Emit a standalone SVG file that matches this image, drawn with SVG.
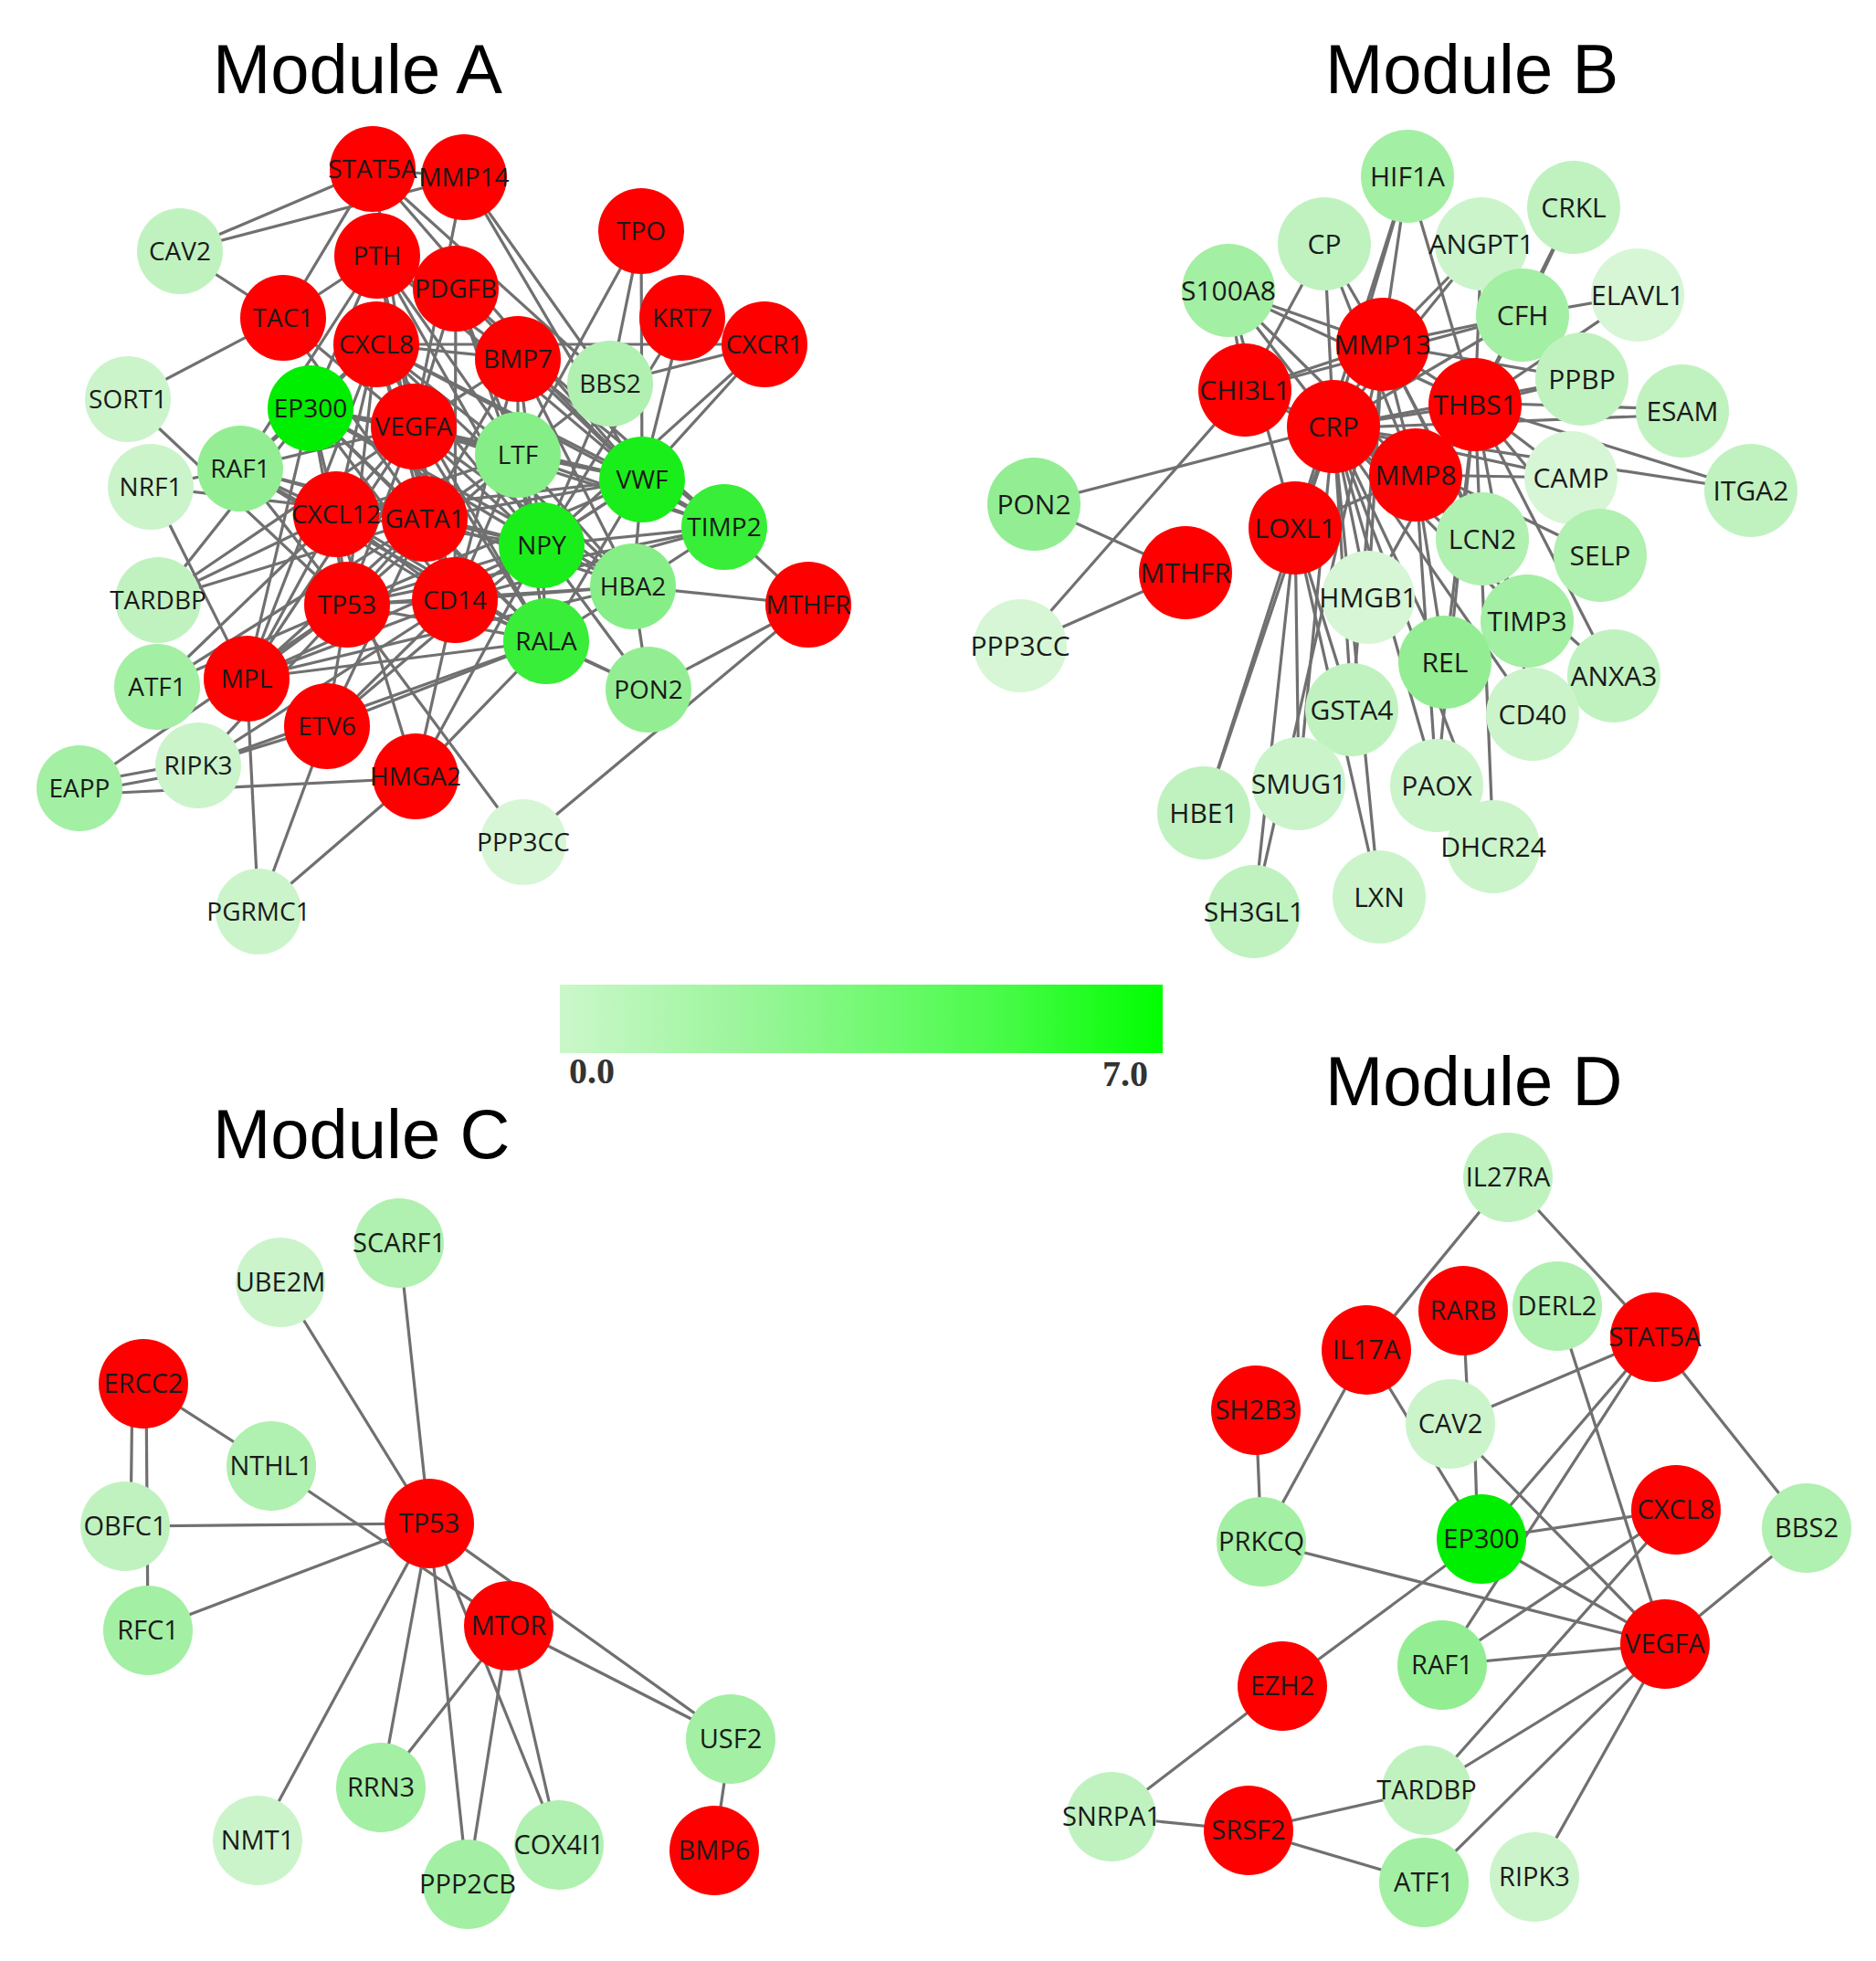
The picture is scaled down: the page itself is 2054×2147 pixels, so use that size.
<svg xmlns="http://www.w3.org/2000/svg" width="2054" height="2147" viewBox="0 0 2054 2147">
<defs>
<linearGradient id="scale" x1="0" y1="0" x2="1" y2="0">
<stop offset="0" stop-color="#cbf7cb"/>
<stop offset="0.3" stop-color="#9cf59c"/>
<stop offset="0.5" stop-color="#76f976"/>
<stop offset="0.75" stop-color="#44fb44"/>
<stop offset="1" stop-color="#00ff00"/>
</linearGradient>
<style>
.r{fill:#ff0000}.g0{fill:#00ee00}.g1{fill:#1aee1a}.g2{fill:#38ee38}.g3{fill:#86ee86}.g4{fill:#93ee93}.g5{fill:#a3efa3}.g6{fill:#b0f0b0}.g7{fill:#c0f2c0}.g8{fill:#cbf4cb}.g9{fill:#d6f6d6}
.edges line{stroke:#707070;stroke-width:3.2}
text.l{font-family:"Open Sans","Noto Sans","DejaVu Sans",sans-serif;text-anchor:middle;fill:#1a1a1a}
#modA text.l{font-size:28px}#modB text.l{font-size:30px}#modC text.l,#modD text.l{font-size:29px}
text.t{font-family:"Liberation Sans",Arial,sans-serif;font-size:76px;fill:#000}
text.s{font-family:"Liberation Serif","Times New Roman",serif;font-size:40px;font-weight:bold;fill:#333}
</style>
</defs>
<rect width="2054" height="2147" fill="#fff"/>
<text class="t" x="233" y="102">Module A</text>
<text class="t" x="1451" y="102">Module B</text>
<text class="t" x="233" y="1268">Module C</text>
<text class="t" x="1451" y="1210">Module D</text>
<g id="colorbar">
<rect x="613" y="1078" width="660" height="75" fill="url(#scale)"/>
<text class="s" x="623" y="1186">0.0</text>
<text class="s" x="1257" y="1189" text-anchor="end">7.0</text>
</g>
<g id="connectors" class="edges">
<g id="edgesA">
<line x1="197" y1="275" x2="408" y2="185"/><line x1="197" y1="275" x2="508" y2="194"/><line x1="197" y1="275" x2="310" y2="348"/><line x1="140" y1="437" x2="310" y2="348"/><line x1="140" y1="437" x2="380" y2="662"/><line x1="165" y1="533" x2="270" y2="743"/><line x1="165" y1="533" x2="465" y2="568"/><line x1="310" y1="348" x2="408" y2="185"/><line x1="310" y1="348" x2="413" y2="280"/><line x1="310" y1="348" x2="453" y2="467"/><line x1="310" y1="348" x2="465" y2="568"/><line x1="408" y1="185" x2="703" y2="525"/><line x1="408" y1="185" x2="668" y2="420"/><line x1="408" y1="185" x2="453" y2="467"/><line x1="408" y1="185" x2="508" y2="194"/><line x1="508" y1="194" x2="668" y2="420"/><line x1="508" y1="194" x2="703" y2="525"/><line x1="508" y1="194" x2="453" y2="467"/><line x1="702" y1="253" x2="567" y2="498"/><line x1="702" y1="253" x2="668" y2="420"/><line x1="702" y1="253" x2="703" y2="525"/><line x1="747" y1="348" x2="703" y2="525"/><line x1="747" y1="348" x2="593" y2="597"/><line x1="837" y1="377" x2="668" y2="420"/><line x1="837" y1="377" x2="703" y2="525"/><line x1="837" y1="377" x2="593" y2="597"/><line x1="837" y1="377" x2="412" y2="377"/><line x1="499" y1="316" x2="703" y2="525"/><line x1="499" y1="316" x2="593" y2="597"/><line x1="499" y1="316" x2="567" y2="498"/><line x1="499" y1="316" x2="453" y2="467"/><line x1="499" y1="316" x2="793" y2="577"/><line x1="499" y1="316" x2="498" y2="657"/><line x1="413" y1="280" x2="453" y2="467"/><line x1="413" y1="280" x2="567" y2="393"/><line x1="413" y1="280" x2="567" y2="498"/><line x1="413" y1="280" x2="703" y2="525"/><line x1="413" y1="280" x2="593" y2="597"/><line x1="413" y1="280" x2="498" y2="657"/><line x1="413" y1="280" x2="465" y2="568"/><line x1="413" y1="280" x2="340" y2="447"/><line x1="413" y1="280" x2="263" y2="513"/><line x1="412" y1="377" x2="567" y2="393"/><line x1="412" y1="377" x2="567" y2="498"/><line x1="412" y1="377" x2="703" y2="525"/><line x1="412" y1="377" x2="593" y2="597"/><line x1="412" y1="377" x2="465" y2="568"/><line x1="412" y1="377" x2="498" y2="657"/><line x1="412" y1="377" x2="380" y2="662"/><line x1="412" y1="377" x2="368" y2="563"/><line x1="412" y1="377" x2="793" y2="577"/><line x1="412" y1="377" x2="598" y2="702"/><line x1="412" y1="377" x2="693" y2="642"/><line x1="412" y1="377" x2="340" y2="447"/><line x1="412" y1="377" x2="263" y2="513"/><line x1="412" y1="377" x2="270" y2="743"/><line x1="567" y1="393" x2="567" y2="498"/><line x1="567" y1="393" x2="703" y2="525"/><line x1="567" y1="393" x2="593" y2="597"/><line x1="567" y1="393" x2="693" y2="642"/><line x1="567" y1="393" x2="465" y2="568"/><line x1="567" y1="393" x2="498" y2="657"/><line x1="567" y1="393" x2="453" y2="467"/><line x1="567" y1="393" x2="793" y2="577"/><line x1="668" y1="420" x2="567" y2="498"/><line x1="668" y1="420" x2="593" y2="597"/><line x1="340" y1="447" x2="453" y2="467"/><line x1="340" y1="447" x2="465" y2="568"/><line x1="340" y1="447" x2="368" y2="563"/><line x1="340" y1="447" x2="380" y2="662"/><line x1="340" y1="447" x2="498" y2="657"/><line x1="340" y1="447" x2="593" y2="597"/><line x1="340" y1="447" x2="567" y2="498"/><line x1="340" y1="447" x2="598" y2="702"/><line x1="340" y1="447" x2="263" y2="513"/><line x1="340" y1="447" x2="270" y2="743"/><line x1="340" y1="447" x2="693" y2="642"/><line x1="340" y1="447" x2="703" y2="525"/><line x1="453" y1="467" x2="567" y2="498"/><line x1="453" y1="467" x2="703" y2="525"/><line x1="453" y1="467" x2="593" y2="597"/><line x1="453" y1="467" x2="793" y2="577"/><line x1="453" y1="467" x2="693" y2="642"/><line x1="453" y1="467" x2="498" y2="657"/><line x1="453" y1="467" x2="380" y2="662"/><line x1="453" y1="467" x2="465" y2="568"/><line x1="453" y1="467" x2="368" y2="563"/><line x1="453" y1="467" x2="598" y2="702"/><line x1="453" y1="467" x2="263" y2="513"/><line x1="453" y1="467" x2="173" y2="657"/><line x1="453" y1="467" x2="270" y2="743"/><line x1="567" y1="498" x2="703" y2="525"/><line x1="567" y1="498" x2="593" y2="597"/><line x1="567" y1="498" x2="465" y2="568"/><line x1="567" y1="498" x2="498" y2="657"/><line x1="567" y1="498" x2="793" y2="577"/><line x1="567" y1="498" x2="693" y2="642"/><line x1="567" y1="498" x2="598" y2="702"/><line x1="567" y1="498" x2="368" y2="563"/><line x1="567" y1="498" x2="380" y2="662"/><line x1="703" y1="525" x2="593" y2="597"/><line x1="703" y1="525" x2="465" y2="568"/><line x1="703" y1="525" x2="793" y2="577"/><line x1="703" y1="525" x2="693" y2="642"/><line x1="703" y1="525" x2="498" y2="657"/><line x1="703" y1="525" x2="598" y2="702"/><line x1="703" y1="525" x2="368" y2="563"/><line x1="703" y1="525" x2="380" y2="662"/><line x1="465" y1="568" x2="593" y2="597"/><line x1="465" y1="568" x2="498" y2="657"/><line x1="465" y1="568" x2="380" y2="662"/><line x1="465" y1="568" x2="368" y2="563"/><line x1="465" y1="568" x2="598" y2="702"/><line x1="465" y1="568" x2="693" y2="642"/><line x1="465" y1="568" x2="263" y2="513"/><line x1="465" y1="568" x2="270" y2="743"/><line x1="368" y1="563" x2="380" y2="662"/><line x1="368" y1="563" x2="498" y2="657"/><line x1="368" y1="563" x2="593" y2="597"/><line x1="368" y1="563" x2="598" y2="702"/><line x1="368" y1="563" x2="263" y2="513"/><line x1="368" y1="563" x2="173" y2="657"/><line x1="368" y1="563" x2="172" y2="752"/><line x1="368" y1="563" x2="270" y2="743"/><line x1="380" y1="662" x2="498" y2="657"/><line x1="380" y1="662" x2="593" y2="597"/><line x1="380" y1="662" x2="598" y2="702"/><line x1="380" y1="662" x2="693" y2="642"/><line x1="380" y1="662" x2="358" y2="795"/><line x1="380" y1="662" x2="270" y2="743"/><line x1="380" y1="662" x2="263" y2="513"/><line x1="380" y1="662" x2="172" y2="752"/><line x1="380" y1="662" x2="217" y2="838"/><line x1="380" y1="662" x2="573" y2="922"/><line x1="380" y1="662" x2="793" y2="577"/><line x1="498" y1="657" x2="593" y2="597"/><line x1="498" y1="657" x2="598" y2="702"/><line x1="498" y1="657" x2="693" y2="642"/><line x1="498" y1="657" x2="270" y2="743"/><line x1="498" y1="657" x2="358" y2="795"/><line x1="498" y1="657" x2="455" y2="850"/><line x1="498" y1="657" x2="263" y2="513"/><line x1="498" y1="657" x2="793" y2="577"/><line x1="593" y1="597" x2="693" y2="642"/><line x1="593" y1="597" x2="598" y2="702"/><line x1="593" y1="597" x2="793" y2="577"/><line x1="593" y1="597" x2="710" y2="755"/><line x1="593" y1="597" x2="270" y2="743"/><line x1="593" y1="597" x2="263" y2="513"/><line x1="598" y1="702" x2="693" y2="642"/><line x1="598" y1="702" x2="710" y2="755"/><line x1="598" y1="702" x2="270" y2="743"/><line x1="598" y1="702" x2="358" y2="795"/><line x1="598" y1="702" x2="455" y2="850"/><line x1="598" y1="702" x2="217" y2="838"/><line x1="693" y1="642" x2="885" y2="662"/><line x1="693" y1="642" x2="710" y2="755"/><line x1="693" y1="642" x2="793" y2="577"/><line x1="793" y1="577" x2="885" y2="662"/><line x1="710" y1="755" x2="885" y2="662"/><line x1="573" y1="922" x2="885" y2="662"/><line x1="455" y1="850" x2="283" y2="998"/><line x1="358" y1="795" x2="283" y2="998"/><line x1="270" y1="743" x2="283" y2="998"/><line x1="87" y1="858" x2="217" y2="834"/><line x1="87" y1="868" x2="217" y2="844"/><line x1="87" y1="870" x2="455" y2="852"/><line x1="87" y1="863" x2="380" y2="662"/><line x1="217" y1="838" x2="358" y2="795"/><line x1="217" y1="838" x2="498" y2="657"/><line x1="172" y1="752" x2="465" y2="568"/><line x1="173" y1="657" x2="340" y2="447"/><line x1="173" y1="657" x2="465" y2="568"/><line x1="358" y1="795" x2="465" y2="568"/><line x1="358" y1="795" x2="593" y2="597"/><line x1="455" y1="850" x2="593" y2="597"/><line x1="455" y1="850" x2="368" y2="563"/><line x1="263" y1="513" x2="165" y2="533"/><line x1="263" y1="513" x2="598" y2="702"/><line x1="270" y1="743" x2="693" y2="642"/><line x1="710" y1="755" x2="498" y2="657"/>
</g>
<g id="edgesB">
<line x1="1132" y1="552" x2="1460" y2="467"/><line x1="1132" y1="552" x2="1298" y2="627"/><line x1="1117" y1="707" x2="1298" y2="627"/><line x1="1117" y1="707" x2="1363" y2="427"/><line x1="1345" y1="318" x2="1363" y2="427"/><line x1="1345" y1="318" x2="1460" y2="467"/><line x1="1345" y1="318" x2="1514" y2="377"/><line x1="1345" y1="318" x2="1615" y2="443"/><line x1="1345" y1="318" x2="1550" y2="520"/><line x1="1345" y1="318" x2="1418" y2="578"/><line x1="1450" y1="267" x2="1363" y2="427"/><line x1="1450" y1="267" x2="1460" y2="467"/><line x1="1450" y1="267" x2="1514" y2="377"/><line x1="1450" y1="267" x2="1550" y2="520"/><line x1="1541" y1="193" x2="1514" y2="377"/><line x1="1541" y1="193" x2="1460" y2="467"/><line x1="1541" y1="193" x2="1615" y2="443"/><line x1="1541" y1="193" x2="1418" y2="578"/><line x1="1622" y1="267" x2="1514" y2="377"/><line x1="1622" y1="267" x2="1615" y2="443"/><line x1="1622" y1="267" x2="1460" y2="467"/><line x1="1723" y1="227" x2="1667" y2="345"/><line x1="1723" y1="227" x2="1615" y2="443"/><line x1="1793" y1="323" x2="1667" y2="345"/><line x1="1793" y1="323" x2="1615" y2="443"/><line x1="1667" y1="345" x2="1514" y2="377"/><line x1="1667" y1="345" x2="1460" y2="467"/><line x1="1667" y1="345" x2="1615" y2="443"/><line x1="1667" y1="345" x2="1363" y2="427"/><line x1="1732" y1="415" x2="1615" y2="443"/><line x1="1732" y1="415" x2="1460" y2="467"/><line x1="1732" y1="415" x2="1514" y2="377"/><line x1="1842" y1="448" x2="1615" y2="441"/><line x1="1842" y1="454" x2="1460" y2="469"/><line x1="1917" y1="537" x2="1615" y2="443"/><line x1="1917" y1="537" x2="1460" y2="467"/><line x1="1720" y1="523" x2="1550" y2="520"/><line x1="1720" y1="523" x2="1460" y2="467"/><line x1="1720" y1="523" x2="1615" y2="443"/><line x1="1752" y1="608" x2="1615" y2="443"/><line x1="1752" y1="608" x2="1460" y2="467"/><line x1="1767" y1="740" x2="1615" y2="443"/><line x1="1767" y1="740" x2="1460" y2="467"/><line x1="1623" y1="590" x2="1550" y2="520"/><line x1="1623" y1="590" x2="1460" y2="467"/><line x1="1623" y1="590" x2="1514" y2="377"/><line x1="1672" y1="680" x2="1550" y2="520"/><line x1="1672" y1="680" x2="1460" y2="467"/><line x1="1672" y1="680" x2="1514" y2="377"/><line x1="1678" y1="782" x2="1460" y2="467"/><line x1="1678" y1="782" x2="1615" y2="443"/><line x1="1582" y1="725" x2="1460" y2="467"/><line x1="1582" y1="725" x2="1550" y2="520"/><line x1="1582" y1="725" x2="1615" y2="443"/><line x1="1498" y1="654" x2="1460" y2="467"/><line x1="1498" y1="654" x2="1615" y2="443"/><line x1="1498" y1="654" x2="1514" y2="377"/><line x1="1480" y1="777" x2="1460" y2="467"/><line x1="1480" y1="777" x2="1514" y2="377"/><line x1="1480" y1="777" x2="1418" y2="578"/><line x1="1573" y1="860" x2="1460" y2="467"/><line x1="1573" y1="860" x2="1550" y2="520"/><line x1="1573" y1="860" x2="1615" y2="443"/><line x1="1635" y1="927" x2="1460" y2="467"/><line x1="1635" y1="927" x2="1615" y2="443"/><line x1="1510" y1="982" x2="1418" y2="578"/><line x1="1510" y1="982" x2="1460" y2="467"/><line x1="1422" y1="858" x2="1418" y2="578"/><line x1="1422" y1="858" x2="1460" y2="467"/><line x1="1318" y1="890" x2="1418" y2="578"/><line x1="1318" y1="890" x2="1460" y2="467"/><line x1="1373" y1="998" x2="1418" y2="578"/><line x1="1373" y1="998" x2="1514" y2="377"/><line x1="1418" y1="578" x2="1460" y2="467"/><line x1="1550" y1="520" x2="1460" y2="467"/><line x1="1514" y1="377" x2="1460" y2="467"/><line x1="1615" y1="443" x2="1460" y2="467"/><line x1="1514" y1="377" x2="1615" y2="443"/><line x1="1550" y1="520" x2="1615" y2="443"/><line x1="1514" y1="377" x2="1550" y2="520"/><line x1="1363" y1="427" x2="1460" y2="467"/><line x1="1363" y1="427" x2="1514" y2="377"/><line x1="1418" y1="578" x2="1550" y2="520"/><line x1="1363" y1="427" x2="1550" y2="520"/>
</g>
<g id="edgesC">
<line x1="307" y1="1404" x2="470" y2="1668"/><line x1="437" y1="1361" x2="470" y2="1668"/><line x1="157" y1="1515" x2="297" y2="1605"/><line x1="145" y1="1515" x2="143" y2="1671"/><line x1="160" y1="1515" x2="162" y2="1785"/><line x1="297" y1="1605" x2="557" y2="1780"/><line x1="137" y1="1671" x2="470" y2="1668"/><line x1="162" y1="1785" x2="470" y2="1668"/><line x1="470" y1="1668" x2="282" y2="2015"/><line x1="470" y1="1668" x2="417" y2="1957"/><line x1="470" y1="1668" x2="512" y2="2063"/><line x1="470" y1="1668" x2="612" y2="2020"/><line x1="470" y1="1668" x2="800" y2="1904"/><line x1="557" y1="1780" x2="800" y2="1904"/><line x1="557" y1="1780" x2="417" y2="1957"/><line x1="557" y1="1780" x2="512" y2="2063"/><line x1="557" y1="1780" x2="612" y2="2020"/><line x1="800" y1="1904" x2="782" y2="2026"/>
</g>
<g id="edgesD">
<line x1="1651" y1="1289" x2="1496" y2="1478"/><line x1="1651" y1="1289" x2="1812" y2="1464"/><line x1="1496" y1="1478" x2="1622" y2="1685"/><line x1="1496" y1="1478" x2="1381" y2="1688"/><line x1="1602" y1="1435" x2="1608" y2="1559"/><line x1="1375" y1="1544" x2="1381" y2="1688"/><line x1="1588" y1="1559" x2="1812" y2="1464"/><line x1="1614" y1="1559" x2="1618" y2="1685"/><line x1="1588" y1="1559" x2="1823" y2="1800"/><line x1="1705" y1="1430" x2="1823" y2="1800"/><line x1="1812" y1="1464" x2="1978" y2="1673"/><line x1="1812" y1="1464" x2="1622" y2="1685"/><line x1="1812" y1="1464" x2="1579" y2="1823"/><line x1="1835" y1="1653" x2="1622" y2="1685"/><line x1="1835" y1="1653" x2="1579" y2="1823"/><line x1="1835" y1="1653" x2="1562" y2="1960"/><line x1="1622" y1="1685" x2="1823" y2="1800"/><line x1="1622" y1="1685" x2="1404" y2="1846"/><line x1="1381" y1="1688" x2="1823" y2="1800"/><line x1="1579" y1="1823" x2="1823" y2="1800"/><line x1="1562" y1="1960" x2="1823" y2="1800"/><line x1="1559" y1="2061" x2="1823" y2="1800"/><line x1="1680" y1="2055" x2="1823" y2="1800"/><line x1="1978" y1="1673" x2="1823" y2="1800"/><line x1="1217" y1="1989" x2="1404" y2="1846"/><line x1="1217" y1="1989" x2="1367" y2="2004"/><line x1="1367" y1="2004" x2="1562" y2="1960"/><line x1="1367" y1="2004" x2="1559" y2="2061"/>
</g>
</g>
<g id="modA">
<g id="a-STAT5A"><circle class="r" cx="408" cy="185" r="47"/><text class="l" x="408" y="195">STAT5A</text></g>
<g id="a-MMP14"><circle class="r" cx="508" cy="194" r="47"/><text class="l" x="508" y="204">MMP14</text></g>
<g id="a-CAV2"><circle class="g7" cx="197" cy="275" r="47"/><text class="l" x="197" y="285">CAV2</text></g>
<g id="a-PTH"><circle class="r" cx="413" cy="280" r="47"/><text class="l" x="413" y="290">PTH</text></g>
<g id="a-PDGFB"><circle class="r" cx="499" cy="316" r="47"/><text class="l" x="499" y="326">PDGFB</text></g>
<g id="a-TPO"><circle class="r" cx="702" cy="253" r="47"/><text class="l" x="702" y="263">TPO</text></g>
<g id="a-TAC1"><circle class="r" cx="310" cy="348" r="47"/><text class="l" x="310" y="358">TAC1</text></g>
<g id="a-CXCL8"><circle class="r" cx="412" cy="377" r="47"/><text class="l" x="412" y="387">CXCL8</text></g>
<g id="a-KRT7"><circle class="r" cx="747" cy="348" r="47"/><text class="l" x="747" y="358">KRT7</text></g>
<g id="a-CXCR1"><circle class="r" cx="837" cy="377" r="47"/><text class="l" x="837" y="387">CXCR1</text></g>
<g id="a-BMP7"><circle class="r" cx="567" cy="393" r="47"/><text class="l" x="567" y="403">BMP7</text></g>
<g id="a-BBS2"><circle class="g6" cx="668" cy="420" r="47"/><text class="l" x="668" y="430">BBS2</text></g>
<g id="a-SORT1"><circle class="g8" cx="140" cy="437" r="47"/><text class="l" x="140" y="447">SORT1</text></g>
<g id="a-EP300"><circle class="g0" cx="340" cy="447" r="47"/><text class="l" x="340" y="457">EP300</text></g>
<g id="a-VEGFA"><circle class="r" cx="453" cy="467" r="47"/><text class="l" x="453" y="477">VEGFA</text></g>
<g id="a-LTF"><circle class="g3" cx="567" cy="498" r="47"/><text class="l" x="567" y="508">LTF</text></g>
<g id="a-VWF"><circle class="g1" cx="703" cy="525" r="47"/><text class="l" x="703" y="535">VWF</text></g>
<g id="a-RAF1"><circle class="g4" cx="263" cy="513" r="47"/><text class="l" x="263" y="523">RAF1</text></g>
<g id="a-NRF1"><circle class="g8" cx="165" cy="533" r="47"/><text class="l" x="165" y="543">NRF1</text></g>
<g id="a-CXCL12"><circle class="r" cx="368" cy="563" r="47"/><text class="l" x="368" y="573">CXCL12</text></g>
<g id="a-GATA1"><circle class="r" cx="465" cy="568" r="47"/><text class="l" x="465" y="578">GATA1</text></g>
<g id="a-NPY"><circle class="g1" cx="593" cy="597" r="47"/><text class="l" x="593" y="607">NPY</text></g>
<g id="a-TIMP2"><circle class="g2" cx="793" cy="577" r="47"/><text class="l" x="793" y="587">TIMP2</text></g>
<g id="a-TARDBP"><circle class="g7" cx="173" cy="657" r="47"/><text class="l" x="173" y="667">TARDBP</text></g>
<g id="a-TP53"><circle class="r" cx="380" cy="662" r="47"/><text class="l" x="380" y="672">TP53</text></g>
<g id="a-CD14"><circle class="r" cx="498" cy="657" r="47"/><text class="l" x="498" y="667">CD14</text></g>
<g id="a-HBA2"><circle class="g3" cx="693" cy="642" r="47"/><text class="l" x="693" y="652">HBA2</text></g>
<g id="a-MTHFR"><circle class="r" cx="885" cy="662" r="47"/><text class="l" x="885" y="672">MTHFR</text></g>
<g id="a-RALA"><circle class="g2" cx="598" cy="702" r="47"/><text class="l" x="598" y="712">RALA</text></g>
<g id="a-ATF1"><circle class="g5" cx="172" cy="752" r="47"/><text class="l" x="172" y="762">ATF1</text></g>
<g id="a-MPL"><circle class="r" cx="270" cy="743" r="47"/><text class="l" x="270" y="753">MPL</text></g>
<g id="a-PON2"><circle class="g4" cx="710" cy="755" r="47"/><text class="l" x="710" y="765">PON2</text></g>
<g id="a-ETV6"><circle class="r" cx="358" cy="795" r="47"/><text class="l" x="358" y="805">ETV6</text></g>
<g id="a-EAPP"><circle class="g5" cx="87" cy="863" r="47"/><text class="l" x="87" y="873">EAPP</text></g>
<g id="a-RIPK3"><circle class="g8" cx="217" cy="838" r="47"/><text class="l" x="217" y="848">RIPK3</text></g>
<g id="a-HMGA2"><circle class="r" cx="455" cy="850" r="47"/><text class="l" x="455" y="860">HMGA2</text></g>
<g id="a-PPP3CC"><circle class="g9" cx="573" cy="922" r="47"/><text class="l" x="573" y="932">PPP3CC</text></g>
<g id="a-PGRMC1"><circle class="g8" cx="283" cy="998" r="47"/><text class="l" x="283" y="1008">PGRMC1</text></g>
</g>
<g id="modB">
<g id="b-HIF1A"><circle class="g5" cx="1541" cy="193" r="51"/><text class="l" x="1541" y="204">HIF1A</text></g>
<g id="b-CP"><circle class="g7" cx="1450" cy="267" r="51"/><text class="l" x="1450" y="278">CP</text></g>
<g id="b-S100A8"><circle class="g5" cx="1345" cy="318" r="51"/><text class="l" x="1345" y="329">S100A8</text></g>
<g id="b-CRKL"><circle class="g7" cx="1723" cy="227" r="51"/><text class="l" x="1723" y="238">CRKL</text></g>
<g id="b-ANGPT1"><circle class="g8" cx="1622" cy="267" r="51"/><text class="l" x="1622" y="278">ANGPT1</text></g>
<g id="b-ELAVL1"><circle class="g9" cx="1793" cy="323" r="51"/><text class="l" x="1793" y="334">ELAVL1</text></g>
<g id="b-CFH"><circle class="g5" cx="1667" cy="345" r="51"/><text class="l" x="1667" y="356">CFH</text></g>
<g id="b-MMP13"><circle class="r" cx="1514" cy="377" r="51"/><text class="l" x="1514" y="388">MMP13</text></g>
<g id="b-CHI3L1"><circle class="r" cx="1363" cy="427" r="51"/><text class="l" x="1363" y="438">CHI3L1</text></g>
<g id="b-PPBP"><circle class="g7" cx="1732" cy="415" r="51"/><text class="l" x="1732" y="426">PPBP</text></g>
<g id="b-THBS1"><circle class="r" cx="1615" cy="443" r="51"/><text class="l" x="1615" y="454">THBS1</text></g>
<g id="b-ESAM"><circle class="g7" cx="1842" cy="450" r="51"/><text class="l" x="1842" y="461">ESAM</text></g>
<g id="b-CRP"><circle class="r" cx="1460" cy="467" r="51"/><text class="l" x="1460" y="478">CRP</text></g>
<g id="b-MMP8"><circle class="r" cx="1550" cy="520" r="51"/><text class="l" x="1550" y="531">MMP8</text></g>
<g id="b-CAMP"><circle class="g9" cx="1720" cy="523" r="51"/><text class="l" x="1720" y="534">CAMP</text></g>
<g id="b-ITGA2"><circle class="g7" cx="1917" cy="537" r="51"/><text class="l" x="1917" y="548">ITGA2</text></g>
<g id="b-PON2"><circle class="g4" cx="1132" cy="552" r="51"/><text class="l" x="1132" y="563">PON2</text></g>
<g id="b-LOXL1"><circle class="r" cx="1418" cy="578" r="51"/><text class="l" x="1418" y="589">LOXL1</text></g>
<g id="b-LCN2"><circle class="g6" cx="1623" cy="590" r="51"/><text class="l" x="1623" y="601">LCN2</text></g>
<g id="b-SELP"><circle class="g6" cx="1752" cy="608" r="51"/><text class="l" x="1752" y="619">SELP</text></g>
<g id="b-MTHFR"><circle class="r" cx="1298" cy="627" r="51"/><text class="l" x="1298" y="638">MTHFR</text></g>
<g id="b-HMGB1"><circle class="g9" cx="1498" cy="654" r="51"/><text class="l" x="1498" y="665">HMGB1</text></g>
<g id="b-TIMP3"><circle class="g5" cx="1672" cy="680" r="51"/><text class="l" x="1672" y="691">TIMP3</text></g>
<g id="b-PPP3CC"><circle class="g9" cx="1117" cy="707" r="51"/><text class="l" x="1117" y="718">PPP3CC</text></g>
<g id="b-REL"><circle class="g4" cx="1582" cy="725" r="51"/><text class="l" x="1582" y="736">REL</text></g>
<g id="b-ANXA3"><circle class="g7" cx="1767" cy="740" r="51"/><text class="l" x="1767" y="751">ANXA3</text></g>
<g id="b-GSTA4"><circle class="g7" cx="1480" cy="777" r="51"/><text class="l" x="1480" y="788">GSTA4</text></g>
<g id="b-CD40"><circle class="g8" cx="1678" cy="782" r="51"/><text class="l" x="1678" y="793">CD40</text></g>
<g id="b-SMUG1"><circle class="g8" cx="1422" cy="858" r="51"/><text class="l" x="1422" y="869">SMUG1</text></g>
<g id="b-PAOX"><circle class="g8" cx="1573" cy="860" r="51"/><text class="l" x="1573" y="871">PAOX</text></g>
<g id="b-HBE1"><circle class="g7" cx="1318" cy="890" r="51"/><text class="l" x="1318" y="901">HBE1</text></g>
<g id="b-DHCR24"><circle class="g8" cx="1635" cy="927" r="51"/><text class="l" x="1635" y="938">DHCR24</text></g>
<g id="b-LXN"><circle class="g8" cx="1510" cy="982" r="51"/><text class="l" x="1510" y="993">LXN</text></g>
<g id="b-SH3GL1"><circle class="g7" cx="1373" cy="998" r="51"/><text class="l" x="1373" y="1009">SH3GL1</text></g>
</g>
<g id="modC">
<g id="c-SCARF1"><circle class="g6" cx="437" cy="1361" r="49"/><text class="l" x="437" y="1371">SCARF1</text></g>
<g id="c-UBE2M"><circle class="g8" cx="307" cy="1404" r="49"/><text class="l" x="307" y="1414">UBE2M</text></g>
<g id="c-ERCC2"><circle class="r" cx="157" cy="1515" r="49"/><text class="l" x="157" y="1525">ERCC2</text></g>
<g id="c-NTHL1"><circle class="g6" cx="297" cy="1605" r="49"/><text class="l" x="297" y="1615">NTHL1</text></g>
<g id="c-OBFC1"><circle class="g7" cx="137" cy="1671" r="49"/><text class="l" x="137" y="1681">OBFC1</text></g>
<g id="c-TP53"><circle class="r" cx="470" cy="1668" r="49"/><text class="l" x="470" y="1678">TP53</text></g>
<g id="c-RFC1"><circle class="g5" cx="162" cy="1785" r="49"/><text class="l" x="162" y="1795">RFC1</text></g>
<g id="c-MTOR"><circle class="r" cx="557" cy="1780" r="49"/><text class="l" x="557" y="1790">MTOR</text></g>
<g id="c-USF2"><circle class="g5" cx="800" cy="1904" r="49"/><text class="l" x="800" y="1914">USF2</text></g>
<g id="c-RRN3"><circle class="g5" cx="417" cy="1957" r="49"/><text class="l" x="417" y="1967">RRN3</text></g>
<g id="c-NMT1"><circle class="g8" cx="282" cy="2015" r="49"/><text class="l" x="282" y="2025">NMT1</text></g>
<g id="c-COX4I1"><circle class="g6" cx="612" cy="2020" r="49"/><text class="l" x="612" y="2030">COX4I1</text></g>
<g id="c-PPP2CB"><circle class="g5" cx="512" cy="2063" r="49"/><text class="l" x="512" y="2073">PPP2CB</text></g>
<g id="c-BMP6"><circle class="r" cx="782" cy="2026" r="49"/><text class="l" x="782" y="2036">BMP6</text></g>
</g>
<g id="modD">
<g id="d-IL27RA"><circle class="g7" cx="1651" cy="1289" r="49"/><text class="l" x="1651" y="1299">IL27RA</text></g>
<g id="d-RARB"><circle class="r" cx="1602" cy="1435" r="49"/><text class="l" x="1602" y="1445">RARB</text></g>
<g id="d-DERL2"><circle class="g6" cx="1705" cy="1430" r="49"/><text class="l" x="1705" y="1440">DERL2</text></g>
<g id="d-IL17A"><circle class="r" cx="1496" cy="1478" r="49"/><text class="l" x="1496" y="1488">IL17A</text></g>
<g id="d-STAT5A"><circle class="r" cx="1812" cy="1464" r="49"/><text class="l" x="1812" y="1474">STAT5A</text></g>
<g id="d-SH2B3"><circle class="r" cx="1375" cy="1544" r="49"/><text class="l" x="1375" y="1554">SH2B3</text></g>
<g id="d-CAV2"><circle class="g8" cx="1588" cy="1559" r="49"/><text class="l" x="1588" y="1569">CAV2</text></g>
<g id="d-CXCL8"><circle class="r" cx="1835" cy="1653" r="49"/><text class="l" x="1835" y="1663">CXCL8</text></g>
<g id="d-BBS2"><circle class="g6" cx="1978" cy="1673" r="49"/><text class="l" x="1978" y="1683">BBS2</text></g>
<g id="d-PRKCQ"><circle class="g5" cx="1381" cy="1688" r="49"/><text class="l" x="1381" y="1698">PRKCQ</text></g>
<g id="d-EP300"><circle class="g0" cx="1622" cy="1685" r="49"/><text class="l" x="1622" y="1695">EP300</text></g>
<g id="d-VEGFA"><circle class="r" cx="1823" cy="1800" r="49"/><text class="l" x="1823" y="1810">VEGFA</text></g>
<g id="d-RAF1"><circle class="g4" cx="1579" cy="1823" r="49"/><text class="l" x="1579" y="1833">RAF1</text></g>
<g id="d-EZH2"><circle class="r" cx="1404" cy="1846" r="49"/><text class="l" x="1404" y="1856">EZH2</text></g>
<g id="d-TARDBP"><circle class="g7" cx="1562" cy="1960" r="49"/><text class="l" x="1562" y="1970">TARDBP</text></g>
<g id="d-SNRPA1"><circle class="g7" cx="1217" cy="1989" r="49"/><text class="l" x="1217" y="1999">SNRPA1</text></g>
<g id="d-SRSF2"><circle class="r" cx="1367" cy="2004" r="49"/><text class="l" x="1367" y="2014">SRSF2</text></g>
<g id="d-ATF1"><circle class="g5" cx="1559" cy="2061" r="49"/><text class="l" x="1559" y="2071">ATF1</text></g>
<g id="d-RIPK3"><circle class="g8" cx="1680" cy="2055" r="49"/><text class="l" x="1680" y="2065">RIPK3</text></g>
</g>
</svg>
